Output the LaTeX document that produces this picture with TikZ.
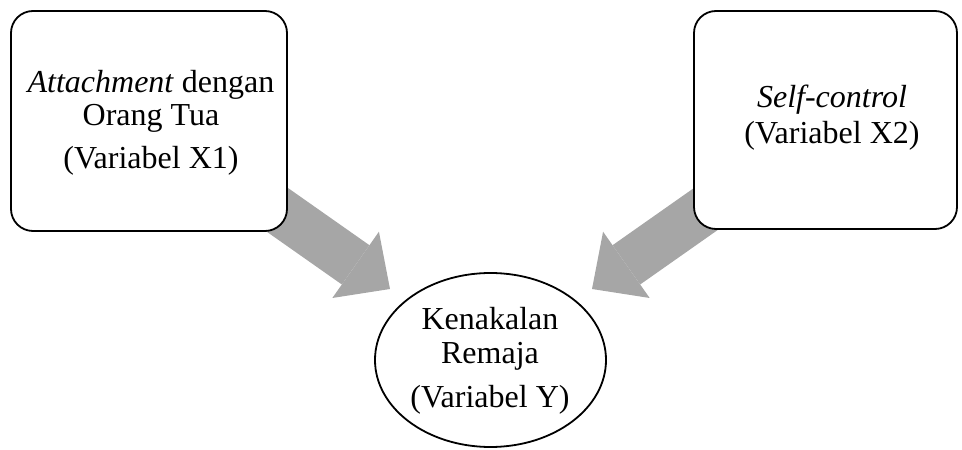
\documentclass[tikz,border=0pt]{standalone}
\usepackage{fontspec}
\setmainfont{Liberation Serif}
\usetikzlibrary{arrows.meta,shapes.geometric,calc}
\pgfdeclarelayer{bg}
\pgfsetlayers{bg,main}
\definecolor{arrowgray}{RGB}{166,166,166}
\begin{document}
\begin{tikzpicture}[x=1pt,y=1pt,
  varbox/.style={draw, line width=1.8pt, rounded corners=22pt, fill=white, inner sep=0pt},
  varellipse/.style={ellipse, draw, line width=1.8pt, fill=white, inner sep=0pt},
  vartext/.style={align=center, inner sep=0pt},
  bigarrow/.style={draw=arrowgray, line width=48pt, -{Triangle[width=81pt,length=42pt,line width=0pt]}}]
\useasboundingbox (0,0) rectangle (962,450);
\node[varbox, minimum width=276pt, minimum height=220pt] (x1) at (149,329) {};
\node[varbox, minimum width=263pt, minimum height=218pt] (x2) at (825.5,330) {};
\node[varellipse, minimum width=231pt, minimum height=174pt] (y) at (490.5,90) {};
\node[vartext, font=\fontsize{32}{33}\selectfont] (t1) at (151,327.5) {\textit{Attachment} dengan\\Orang Tua\\[10pt](Variabel X1)};
\node[vartext, font=\fontsize{32}{33}\selectfont] (t2) at (832,332.5) {\textit{Self-control}\\[3pt](Variabel X2)};
\node[vartext, font=\fontsize{32}{34}\selectfont] (ty) at (490,89.5) {Kenakalan\\Remaja\\[10pt](Variabel Y)};
\coordinate (tipl) at (390,161);
\coordinate (tipr) at (592,161);
\begin{pgfonlayer}{bg}
\draw[bigarrow] ($(x1.south east)+(-19,28)$) -- (tipl);
\draw[bigarrow] ($(x2.south west)+(20,26)$) -- (tipr);
\end{pgfonlayer}
\end{tikzpicture}
\end{document}
